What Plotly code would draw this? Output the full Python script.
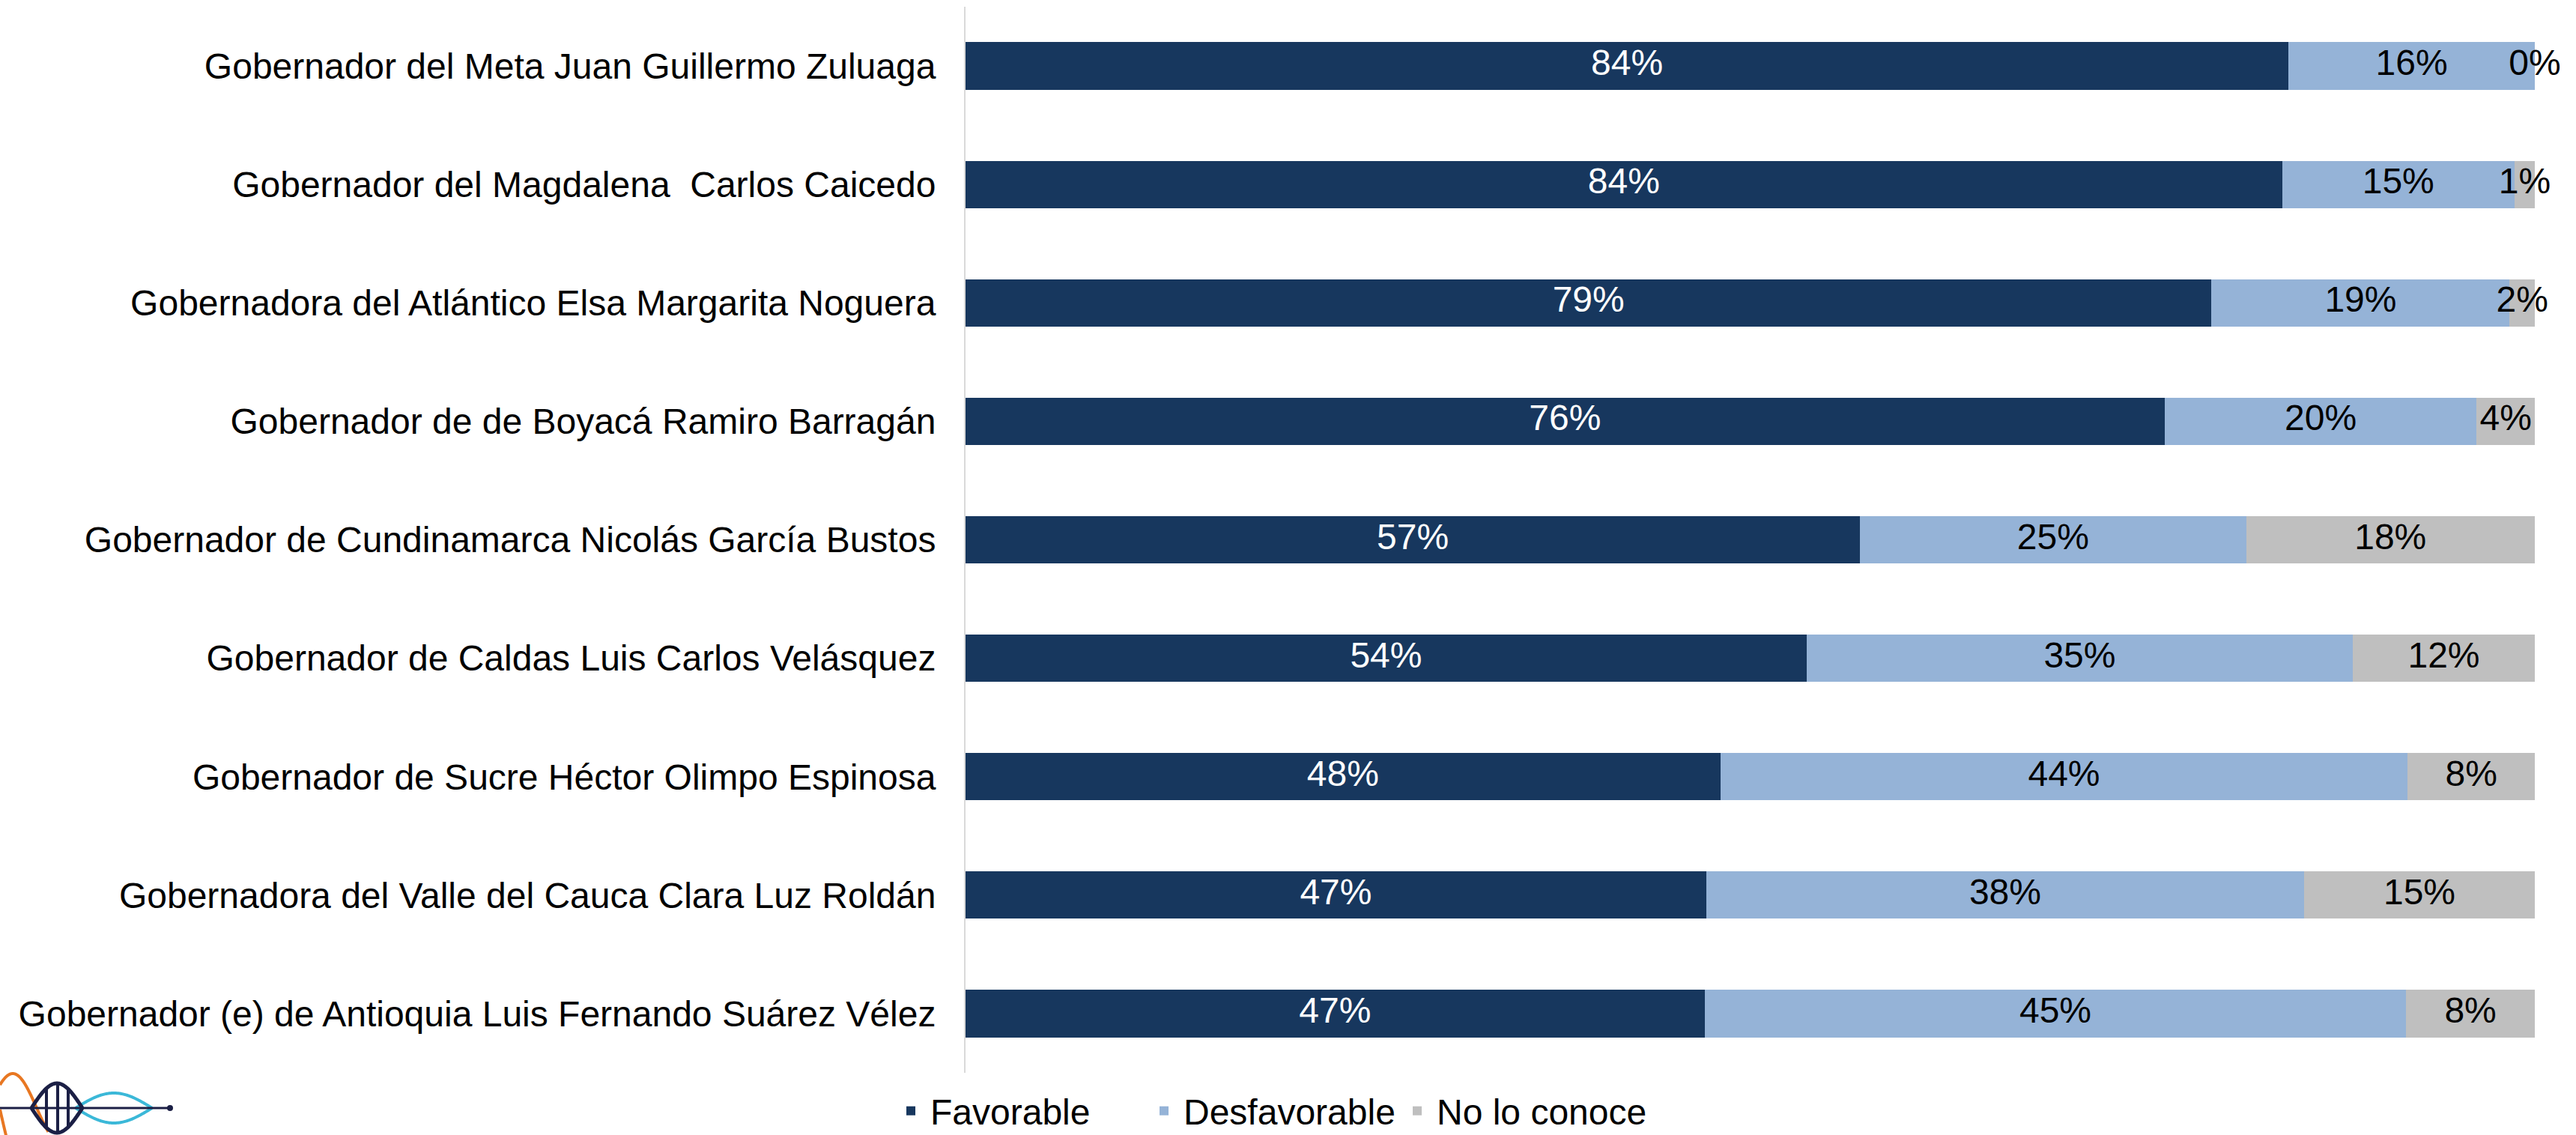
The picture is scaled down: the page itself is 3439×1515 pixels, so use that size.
import math
import plotly.graph_objects as go

categories = [
    "Gobernador del Meta Juan Guillermo Zuluaga",
    "Gobernador del Magdalena\u00a0 Carlos Caicedo",
    "Gobernadora del Atlántico Elsa Margarita Noguera",
    "Gobernador de de Boyacá Ramiro Barragán",
    "Gobernador de Cundinamarca Nicolás García Bustos",
    "Gobernador de Caldas Luis Carlos Velásquez",
    "Gobernador de Sucre Héctor Olimpo Espinosa",
    "Gobernadora del Valle del Cauca Clara Luz Roldán",
    "Gobernador (e) de Antioquia Luis Fernando Suárez Vélez",
]
favorable = [84.3, 83.9, 79.4, 76.4, 57.0, 53.6, 48.1, 47.2, 47.1]
desfavorable = [15.7, 14.8, 19.0, 19.9, 24.6, 34.8, 43.8, 38.1, 44.7]
no_conoce = [0.0, 1.3, 1.6, 3.7, 18.4, 11.6, 8.1, 14.7, 8.2]
series_names = ["Favorable", "Desfavorable", "No lo conoce"]

colors = ["#17375E", "#95B3D7", "#BFBFBF"]
label_colors = ["#FFFFFF", "#000000", "#000000"]
FONT = "Liberation Sans, Arial, sans-serif"
FS = 48

W, H = 3439, 1515
ML, MR, MT, MB = 1289, 55, 9, 83
PW, PH = W - ML - MR, H - MT - MB

fig = go.Figure()
series = [favorable, desfavorable, no_conoce]
base = [0.0] * len(categories)
for name, vals, col, tcol in zip(series_names, series, colors, label_colors):
    fig.add_trace(go.Bar(
        name=name, y=categories, x=vals, orientation="h",
        marker=dict(color=col, line=dict(width=0)),
        textposition="none",
    ))
    mids = [b + v / 2 for b, v in zip(base, vals)]
    fig.add_trace(go.Scatter(
        x=mids, y=categories, mode="text",
        text=[f"{v:.0f}%" for v in vals],
        textfont=dict(family=FONT, size=FS, color=tcol),
        textposition="middle center", showlegend=False,
        cliponaxis=False, hoverinfo="skip",
    ))
    base = [b + v for b, v in zip(base, vals)]


# ---- decorative logo (bottom-left), drawn in pixel space then mapped to paper ----
def to_paper(px, py):
    return (px - ML) / PW, (H - MB - py) / PH


def path_from(points):
    pts = [to_paper(x, y) for x, y in points]
    return "M " + " L ".join(f"{x:.6f},{y:.6f}" for x, y in pts)


cy = 1479
shapes = []
# orange waves
orange1 = [(x, cy - 46 * math.cos(2 * math.pi * (x - 17) / 128)) for x in [i * 0.5 for i in range(0, 130)]]
orange1 = [(x, y) for x, y in orange1 if y <= 1516]
orange2 = [(x, cy + 2 + 90 * math.sin(2 * math.pi * x / 128)) for x in [i * 0.5 for i in range(0, 40)]]
orange2 = [(x, y) for x, y in orange2 if y <= 1516]
for p in (orange1, orange2):
    shapes.append(dict(type="path", xref="paper", yref="paper", path=path_from(p),
                       line=dict(color="#E87722", width=4)))
# cyan lens
xs = [101 + i for i in range(0, 103)]
up = [(x, cy - 20 * math.sin(math.pi * (x - 101) / 102)) for x in xs]
dn = [(x, cy + 20 * math.sin(math.pi * (x - 101) / 102)) for x in xs]
for p in (up, dn):
    shapes.append(dict(type="path", xref="paper", yref="paper", path=path_from(p),
                       line=dict(color="#3BB8D8", width=4)))
# horizontal line
shapes.append(dict(type="path", xref="paper", yref="paper",
                   path=path_from([(0, cy), (227, cy)]),
                   line=dict(color="#1B1F45", width=3)))
# navy lens
xs = [42 + i for i in range(0, 69)]
up = [(x, cy - 33 * math.sin(math.pi * (x - 42) / 68)) for x in xs]
dn = [(x, cy + 33 * math.sin(math.pi * (x - 42) / 68)) for x in xs]
for p in (up, dn):
    shapes.append(dict(type="path", xref="paper", yref="paper", path=path_from(p),
                       line=dict(color="#1B1F45", width=5)))
for vx in (62, 77, 91):
    a = 33 * math.sin(math.pi * (vx - 42) / 68)
    shapes.append(dict(type="path", xref="paper", yref="paper",
                       path=path_from([(vx, cy - a), (vx, cy + a)]),
                       line=dict(color="#1B1F45", width=4)))
# end dot
x0, y0 = to_paper(223, cy - 4)
x1, y1 = to_paper(231, cy + 4)
shapes.append(dict(type="circle", xref="paper", yref="paper", x0=x0, y0=y1, x1=x1, y1=y0,
                   fillcolor="#1B1F45", line=dict(width=0)))

fig.update_layout(
    width=W, height=H,
    margin=dict(l=ML, r=MR, t=MT, b=MB, pad=0, autoexpand=False),
    barmode="stack", bargap=0.6,
    plot_bgcolor="white", paper_bgcolor="white",
    font=dict(family=FONT, size=FS, color="#000000"),
    xaxis=dict(range=[0, 100], visible=False, fixedrange=True),
    yaxis=dict(autorange="reversed", showline=True, linecolor="#D9D9D9", linewidth=2,
               showgrid=False, zeroline=False, ticks="", ticklabelstandoff=28,
               tickfont=dict(family=FONT, size=FS, color="#000000")),
    legend=dict(orientation="h", xref="container", x=1190 / W, xanchor="left",
                yref="container", y=(H - 1483) / H, yanchor="middle",
                entrywidth=281, entrywidthmode="pixels",
                font=dict(family=FONT, size=FS, color="#000000"), itemwidth=42,
                traceorder="normal", bgcolor="rgba(0,0,0,0)"),
    showlegend=True,
    shapes=shapes,
)

fig.write_html("out.html", config={"displayModeBar": False},
               post_script="document.body.style.margin='0';document.body.style.overflow='hidden';")
